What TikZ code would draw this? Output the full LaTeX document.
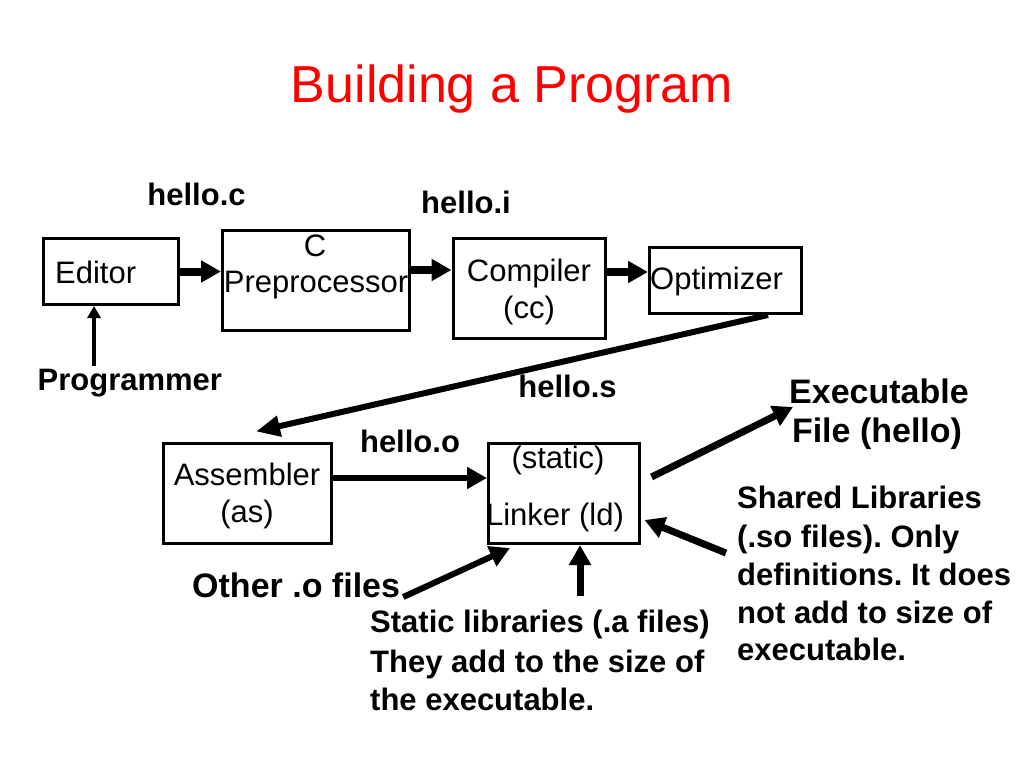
\documentclass[tikz,border=0pt]{standalone}
\usepackage{fontspec}
\setmainfont{Liberation Sans}
\usetikzlibrary{arrows.meta}
\frenchspacing
\begin{document}
\begin{tikzpicture}[x=1pt,y=-1pt,
  box/.style={draw, line width=3pt, inner sep=0pt, rectangle},
  boxtxt/.style={font=\fontsize{31}{36}\selectfont, inner sep=0pt, anchor=base},
  lbl/.style={font=\fontsize{31}{38.5}\selectfont\bfseries, inner sep=0pt, anchor=base},
  biglbl/.style={font=\fontsize{34}{39}\selectfont\bfseries, inner sep=0pt, anchor=base},
  arr/.style={line width=7pt, -{Triangle[length=20pt,width=21pt]}},
  arrtop/.style={line width=8pt, -{Triangle[length=20pt,width=21pt]}},
  arrlong/.style={line width=6pt, -{Triangle[length=24pt,width=20pt]}},
  arrthin/.style={line width=4.5pt, -{Triangle[length=12pt,width=13pt]}}
]
\useasboundingbox (0,0) rectangle (1024,768);
\fill[white] (0,0) rectangle (1024,768);

% title
\node[font=\fontsize{52}{60}\selectfont, text=red, inner sep=0pt, anchor=base] (title) at (512,102) {Building a Program};

% boxes
\node[box, minimum width=135pt, minimum height=66pt] (editor) at (111,271.5) {};
\node[box, minimum width=187pt, minimum height=100pt] (prep) at (316,280.5) {};
\node[box, minimum width=152pt, minimum height=100pt] (comp) at (529,288.5) {};
\node[box, minimum width=152pt, minimum height=66pt] (opt) at (725.5,280.5) {};
\node[box, minimum width=168pt, minimum height=100pt] (asm) at (247.5,493.5) {};
\node[box, minimum width=151pt, minimum height=100pt] (link) at (564,493.5) {};

% box texts
\node[boxtxt, anchor=base west] (editortxt) at (55,283) {Editor};
\node[boxtxt] (preptxtA) at (315,256) {C};
\node[boxtxt] (preptxtB) at (316,292) {Preprocessor};
\node[boxtxt] (comptxtA) at (529,281) {Compiler};
\node[boxtxt] (comptxtB) at (529,318) {(cc)};
\node[boxtxt, anchor=base west] (opttxt) at (650,289) {Optimizer};
\node[boxtxt] (asmtxtA) at (247,485) {Assembler};
\node[boxtxt] (asmtxtB) at (247,522) {(as)};
\node[boxtxt] (linktxtA) at (558,468) {(static)};
\node[boxtxt] (linktxtB) at (555,525) {Linker (ld)};

% labels
\node[lbl] (helloc) at (196.5,205) {hello.c};
\node[lbl] (helloi) at (466,213) {hello.i};
\node[lbl] (hellos) at (567.5,397) {hello.s};
\node[lbl] (helloo) at (410,452) {hello.o};
\node[lbl, anchor=base west] (prog) at (37.5,390) {Programmer};
\node[biglbl, anchor=base west] (other) at (192,597) {Other .o files};
\node[biglbl] (execA) at (879,403) {Executable};
\node[biglbl] (execB) at (877,442) {File (hello)};
\node[lbl, anchor=base west] (shared) at (737,508) {Shared Libraries};
\node[lbl, anchor=base west] (sharedB) at (737,547) {(.so files). Only};
\node[lbl, anchor=base west] (sharedC) at (737,585) {definitions. It does};
\node[lbl, anchor=base west] (sharedD) at (737,623) {not add to size of};
\node[lbl, anchor=base west] (sharedE) at (737,660) {executable.};
\node[lbl, anchor=base west] (static) at (370,632) {Static libraries (.a files)};
\node[lbl, anchor=base west] (staticB) at (370,672) {They add to the size of};
\node[lbl, anchor=base west] (staticC) at (370,710) {the executable.};

% free ends
\coordinate (progtop) at (94,366);
\coordinate (exectip) at (793,407);
\coordinate (sharedtail) at (726,553);
\coordinate (statictop) at (580,596);

% connectors
\draw[arrtop] (editor.east) -- (editor.east -| prep.west);
\draw[arrtop] ([yshift=10.5pt]prep.east) -- ([yshift=10.5pt]prep.east -| comp.west);
\draw[arrtop] ([yshift=16.5pt]comp.east) -- ([yshift=16.5pt]comp.east -| opt.west);
\draw[arrthin] (progtop) -- (progtop |- editor.south);
\draw[arrlong] ([xshift=42.5pt]opt.south) -- ([xshift=8.5pt,yshift=10.5pt]asm.north);
\draw[arr, line width=6pt] ([yshift=15.5pt]asm.east) -- ([yshift=15.5pt]asm.east -| link.west);
\draw[arr] ([xshift=10.5pt,yshift=16.5pt]link.east) -- (exectip);
\draw[arr] (sharedtail) -- ([xshift=3.5pt,yshift=-26.5pt]link.east);
\draw[arr, line width=6pt] ([xshift=3pt]other.base east) -- ([xshift=-54pt,yshift=-3pt]link.south);
\draw[arr] (statictop) -- (statictop |- link.south);
\end{tikzpicture}
\end{document}
